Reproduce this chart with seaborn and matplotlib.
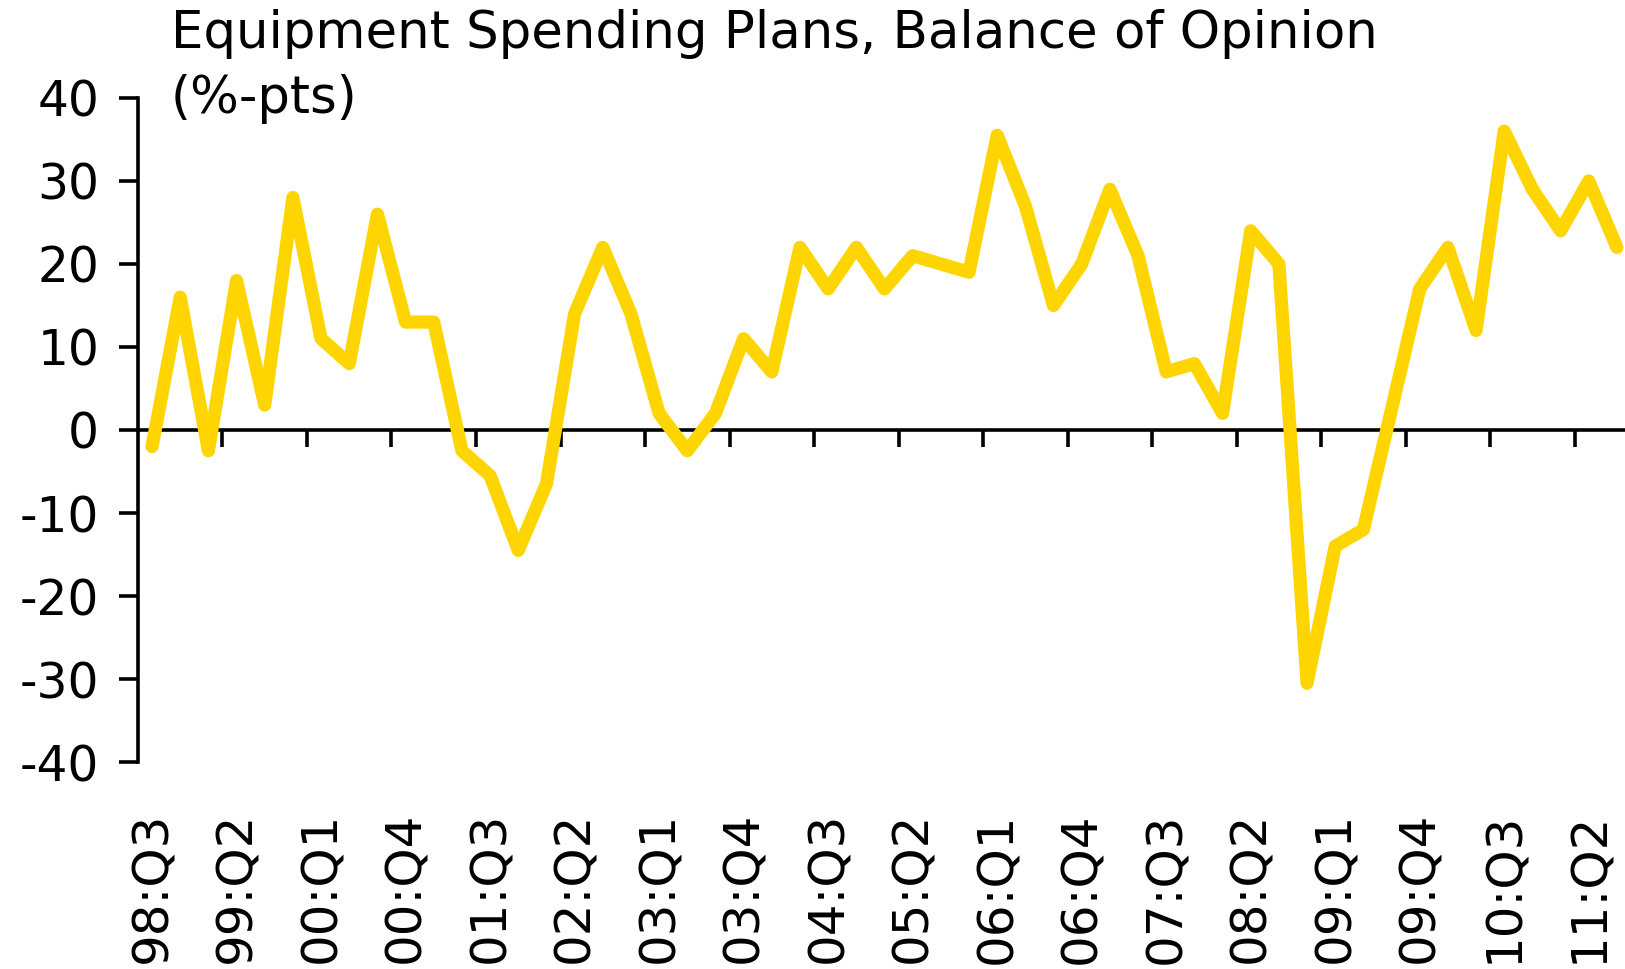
import numpy as np
import pandas as pd
import matplotlib
matplotlib.use("Agg")
import matplotlib.pyplot as plt
import seaborn as sns

# Quarterly balance of opinion, 98:Q3 .. 11:Q3 (%-pts)
quarters = [f"{p.year % 100:02d}:Q{p.quarter}"
            for p in pd.period_range("1998Q3", "2011Q3", freq="Q")]
balance = [-2, 16, -2.5, 18, 3, 28, 11, 8, 26, 13, 13, -2.5, -5.5, -14.5, -6.5,
           14, 22, 14, 2, -2.5, 2, 11, 7, 22, 17, 22, 17, 21, 20, 19, 35.5, 27,
           15, 20, 29, 21, 7, 8, 2, 24, 20, -30.5, -14, -12, 2.5, 17, 22, 12,
           36, 29, 24, 30, 22]
tick_labels = ["98:Q3", "99:Q2", "00:Q1", "00:Q4", "01:Q3", "02:Q2", "03:Q1",
               "03:Q4", "04:Q3", "05:Q2", "06:Q1", "06:Q4", "07:Q3", "08:Q2",
               "09:Q1", "09:Q4", "10:Q3", "11:Q2"]
y_ticks = [-40, -30, -20, -10, 0, 10, 20, 30, 40]

df = pd.DataFrame({"quarter": quarters, "balance": balance})
df["pos"] = np.arange(len(df))

sns.set_style("white")
plt.rcParams["font.family"] = ["DejaVu Sans"]
plt.rcParams["axes.unicode_minus"] = False
plt.rcParams["text.color"] = "black"
plt.rcParams["xtick.color"] = "black"
plt.rcParams["ytick.color"] = "black"

fig = plt.figure(figsize=(16.25, 9.69), dpi=100)
ax = fig.add_axes([0.0849, 0.2136, 0.9188, 0.6853])

sns.lineplot(data=df, x="pos", y="balance", color="#FFD500", linewidth=9.5,
             solid_joinstyle="round", solid_capstyle="round", zorder=3, ax=ax)

ax.set_xlim(-0.5, len(df) - 0.5)
ax.set_ylim(-40, 40)
ax.set_yticks(y_ticks)
ax.set_xlabel("")
ax.set_ylabel("")

# axis look: left spine + zero line with ticks between categories
for s in ["top", "right"]:
    ax.spines[s].set_visible(False)
ax.spines["bottom"].set_position(("data", 0))
for s in ["left", "bottom"]:
    ax.spines[s].set_linewidth(2.6)
    ax.spines[s].set_color("black")

pos = df["pos"].to_numpy()
ax.set_xticks(pos[2:-1:3] + 0.5)
ax.tick_params(axis="x", bottom=True, direction="out", length=12, width=2.6,
               labelbottom=False)
ax.tick_params(axis="y", left=True, direction="out", length=14, width=2.6,
               labelsize=35, pad=14)

# category labels every 3 quarters under the plot
sec = ax.secondary_xaxis(0)
sec.set_xticks(pos[::3], labels=tick_labels, rotation=90)
sec.tick_params(bottom=True, length=0, pad=36, labelsize=36)
sec.spines["bottom"].set_visible(False)

fig.text(171 / 1625, 1 - 9 / 969,
         "Equipment Spending Plans, Balance of Opinion\n(%-pts)",
         fontsize=37, ha="left", va="top", linespacing=1.38)

fig.savefig("out.png", dpi=100)
